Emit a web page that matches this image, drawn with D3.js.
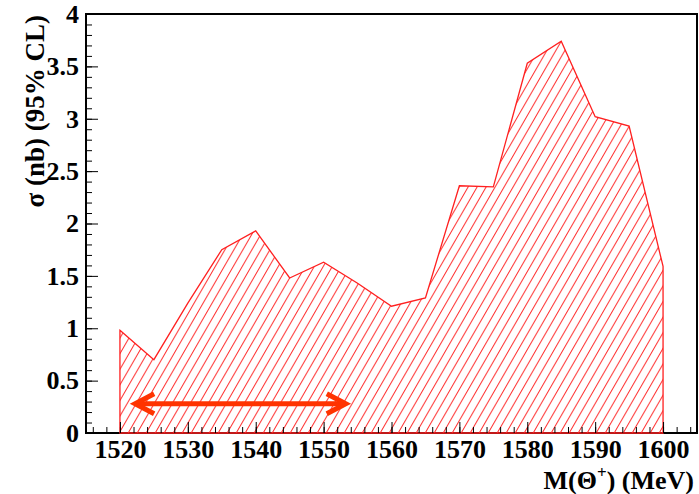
<!DOCTYPE html>
<html>
<head>
<meta charset="utf-8">
<script src="https://cdn.jsdelivr.net/npm/d3@7"></script>
<style>
  html, body { margin: 0; padding: 0; background: #fff; }
  svg { display: block; }
  text { font-family: "Liberation Serif", "Times New Roman", serif; font-weight: bold; }
</style>
</head>
<body>
<svg id="chart" width="699" height="494"></svg>
<script>
// Upper limit on the cross section vs. assumed Theta+ mass
const mass  = [1520, 1525, 1530, 1535, 1540, 1545, 1550, 1555, 1560, 1565, 1570, 1575, 1580, 1585, 1590, 1595, 1600];
const sigma = [0.98, 0.70, 1.24, 1.75, 1.93, 1.48, 1.63, 1.43, 1.21, 1.29, 2.36, 2.35, 3.53, 3.74, 3.02, 2.93, 1.59];

// Mass window marked with a double-headed arrow
const arrowRange = [1521.5, 1554];
const arrowLevel = 0.28;

// Axis ticks
const xMajorTicks = [1520, 1530, 1540, 1550, 1560, 1570, 1580, 1590, 1600];
const xMinorTicks = d3.range(1516, 1605, 2);
const yMajorTicks = [0, 0.5, 1, 1.5, 2, 2.5, 3, 3.5, 4];
const yMinorTicks = d3.range(0, 4.001, 0.1);

const W = 699, H = 494;
const m = { left: 86, right: 2, top: 14, bottom: 61 };

const svg = d3.select("#chart");

const x = d3.scaleLinear().domain([1515, 1605]).range([m.left, W - m.right]);
const y = d3.scaleLinear().domain([0, 4]).range([H - m.bottom, m.top]);

// hatch pattern (diagonal lines)
const defs = svg.append("defs");
const pw = 9, ph = 15.6;
const pat = defs.append("pattern")
  .attr("id", "hatch")
  .attr("patternUnits", "userSpaceOnUse")
  .attr("width", pw).attr("height", ph);
pat.append("path")
  .attr("d", `M${-pw},${2*ph} L${2*pw},${-ph} M${-2*pw},${2*ph} L${pw},${-ph} M0,${2*ph} L${3*pw},${-ph}`)
  .attr("stroke", "#ff2a2a")
  .attr("stroke-width", 1)
  .attr("fill", "none");

// frame
svg.append("rect")
  .attr("x", m.left).attr("y", m.top)
  .attr("width", W - m.left - m.right)
  .attr("height", H - m.top - m.bottom)
  .attr("fill", "none")
  .attr("stroke", "#000")
  .attr("stroke-width", 2);

// hatched area under the limit curve
const pts = mass.map((d, i) => [d, sigma[i]]);
const area = d3.area()
  .x(d => x(d[0]))
  .y0(y(0))
  .y1(d => y(d[1]));
svg.append("path")
  .datum(pts)
  .attr("d", area)
  .attr("fill", "url(#hatch)")
  .attr("stroke", "#ff2020")
  .attr("stroke-width", 1.3);

// axes
const gx = svg.append("g").attr("transform", `translate(0,${y(0)})`);
gx.call(d3.axisBottom(x).tickValues(xMinorTicks).tickSizeInner(-6).tickSizeOuter(0).tickFormat(""));
const gx2 = svg.append("g").attr("transform", `translate(0,${y(0)})`);
gx2.call(d3.axisBottom(x).tickValues(xMajorTicks).tickSizeInner(-11).tickSizeOuter(0).tickPadding(7).tickFormat(d3.format("d")));

const gy = svg.append("g").attr("transform", `translate(${x(1515)},0)`);
gy.call(d3.axisLeft(y).tickValues(yMinorTicks).tickSizeInner(-6).tickSizeOuter(0).tickFormat(""));
const gy2 = svg.append("g").attr("transform", `translate(${x(1515)},0)`);
gy2.call(d3.axisLeft(y).tickValues(yMajorTicks).tickSizeInner(-12).tickSizeOuter(0).tickPadding(7).tickFormat(d3.format("~g")));

svg.selectAll(".domain").remove();
svg.selectAll(".tick line").attr("stroke", "#000").attr("stroke-width", 1);
svg.selectAll(".tick text")
  .attr("fill", "#000")
  .style("font-family", '"Liberation Serif", serif')
  .style("font-weight", "bold")
  .style("font-size", "26px");

// arrow (vertices pulled in so the mitred tips land on the range ends)
const ay = y(arrowLevel), ax0 = x(arrowRange[0]) + 5, ax1 = x(arrowRange[1]) - 5;
const arrowColor = "#ff3300";
svg.append("line")
  .attr("x1", ax0 + 2).attr("x2", ax1 - 2)
  .attr("y1", ay).attr("y2", ay)
  .attr("stroke", arrowColor).attr("stroke-width", 5);
svg.append("path")
  .attr("d", `M${ax0 + 19},${ay - 10} L${ax0},${ay} L${ax0 + 19},${ay + 10}`)
  .attr("fill", "none").attr("stroke", arrowColor).attr("stroke-width", 5)
  .attr("stroke-linejoin", "miter");
svg.append("path")
  .attr("d", `M${ax1 - 19},${ay - 10} L${ax1},${ay} L${ax1 - 19},${ay + 10}`)
  .attr("fill", "none").attr("stroke", arrowColor).attr("stroke-width", 5)
  .attr("stroke-linejoin", "miter");

// axis titles
const xt = svg.append("text")
  .attr("x", 694).attr("y", 489)
  .attr("text-anchor", "end")
  .style("font-size", "26px");
xt.append("tspan").text("M(Θ");
xt.append("tspan").text("+").attr("dy", -11).style("font-size", "17px");
xt.append("tspan").text(") (MeV)").attr("dy", 11);

svg.append("text")
  .attr("transform", "translate(44,15) rotate(-90)")
  .attr("text-anchor", "end")
  .style("font-size", "27px")
  .text("σ (nb) (95% CL)");
</script>
</body>
</html>
